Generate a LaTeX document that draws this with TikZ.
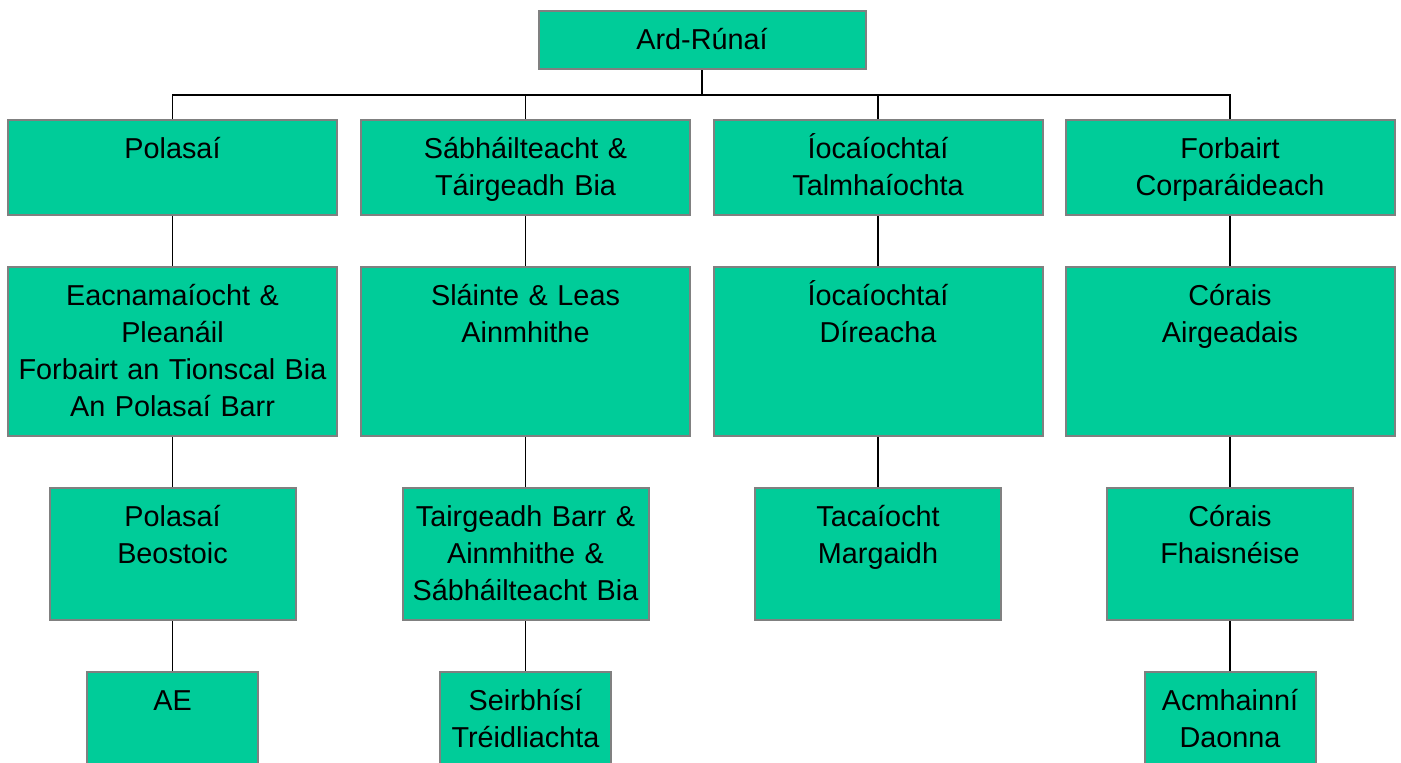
\documentclass[tikz,border=0pt]{standalone}
\usepackage{fontspec}
\setmainfont{Liberation Sans}
\usetikzlibrary{positioning}
\definecolor{unitgreen}{RGB}{0,204,153}
\definecolor{unitedge}{RGB}{128,128,128}
\tikzset{
	unit/.style={draw=unitedge, line width=1pt, fill=unitgreen, anchor=north,
		inner xsep=0pt, inner ysep=0pt, align=center, text height=19pt,
		font=\fontsize{14.4pt}{18.6pt}\selectfont},
	headbox/.style={unit, text width=163.5pt, text depth=10pt},
	rowone/.style={unit, text width=164.5pt, text depth=28.5pt},
	rowtwo/.style={unit, text width=164.5pt, text depth=65.5pt},
	rowthree/.style={unit, text width=123pt, text depth=47pt},
	rowfour/.style={unit, text width=85.5pt, text depth=28.5pt},
	link/.style={draw=black, line width=0.75pt}
}
\begin{document}
\begin{tikzpicture}[x=0.5pt, y=-0.5pt]
	% page
	\clip (0,0) rectangle (1401,762);

	% top
	\node[headbox] (ceo) at (702,10) {Ard-Rúnaí};

	% divisions
	\node[rowone] (pol)  at (172.5,119) {Polasaí};
	\node[rowone] (food) at (525.5,119) {Sábháilteacht \&\\Táirgeadh Bia};
	\node[rowone] (pay)  at (878,119)   {Íocaíochtaí\\Talmhaíochta};
	\node[rowone] (corp) at (1230,119)  {Forbairt\\Corparáideach};

	% second level
	\node[rowtwo, below=25pt of pol]  (econ)    {Eacnamaíocht \&\\Pleanáil\\Forbairt an Tionscal Bia\\An Polasaí Barr};
	\node[rowtwo, below=25pt of food] (health)  {Sláinte \& Leas\\Ainmhithe};
	\node[rowtwo, below=25pt of pay]  (direct)  {Íocaíochtaí\\Díreacha};
	\node[rowtwo, below=25pt of corp] (finance) {Córais\\Airgeadais};

	% third level
	\node[rowthree, below=25pt of econ]    (stock)   {Polasaí\\Beostoic};
	\node[rowthree, below=25pt of health]  (produce) {Tairgeadh Barr \&\\Ainmhithe \&\\Sábháilteacht Bia};
	\node[rowthree, below=25pt of direct]  (market)  {Tacaíocht\\Margaidh};
	\node[rowthree, below=25pt of finance] (info)    {Córais\\Fhaisnéise};

	% fourth level
	\node[rowfour, below=25pt of stock]   (eu)  {AE};
	\node[rowfour, below=25pt of produce] (vet) {Seirbhísí\\Tréidliachta};
	\node[rowfour, below=25pt of info]    (hr)  {Acmhainní\\Daonna};

	% bus
	\draw[link] (ceo.south) -- ++(0,25) coordinate (bus);
	\foreach \n in {pol,food,pay,corp}
		\draw[link] (bus) -| (\n.north);

	% columns
	\foreach \a/\b in {pol/econ, econ/stock, stock/eu,
			food/health, health/produce, produce/vet,
			pay/direct, direct/market,
			corp/finance, finance/info, info/hr}
		\draw[link] (\a.south) -- (\b.north);
\end{tikzpicture}
\end{document}
